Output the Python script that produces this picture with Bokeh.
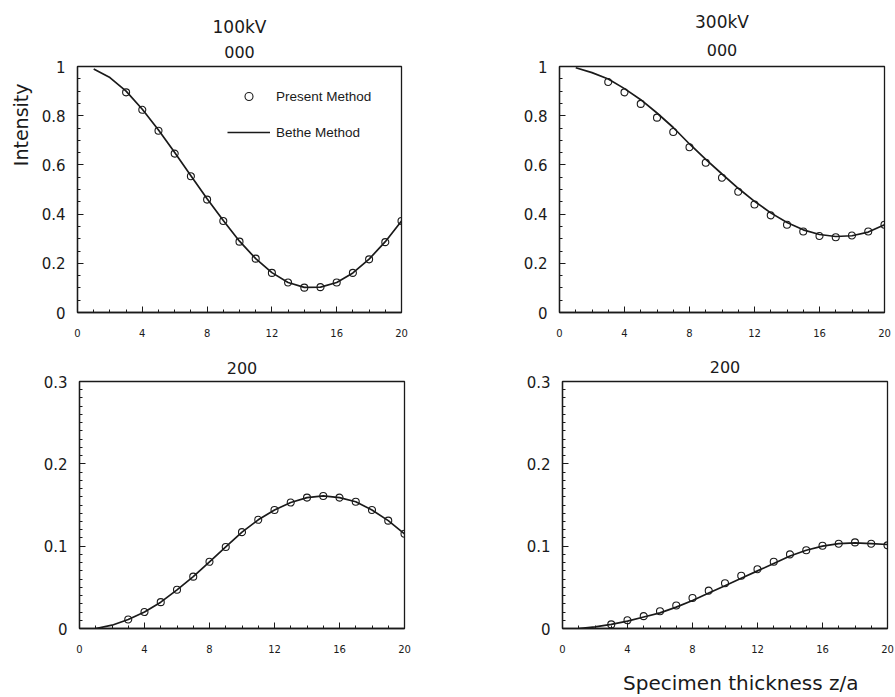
from bokeh.plotting import figure
from bokeh.layouts import column, row
from bokeh.models import (Range1d, FixedTicker, CustomJSTickFormatter, LinearAxis,
                          Title, Legend, LegendItem)
from bokeh.embed import file_html
from bokeh.resources import INLINE

# ---------------- data ----------------
thickness_line = [1, 2, 3, 4, 5, 6, 7, 8, 9, 10, 11, 12, 13, 14, 15, 16, 17, 18, 19, 20]
thickness_pts = [3, 4, 5, 6, 7, 8, 9, 10, 11, 12, 13, 14, 15, 16, 17, 18, 19, 20]

# 000 beam, 100 kV
bethe_000_100 = [0.99, 0.955, 0.9, 0.826, 0.742, 0.65, 0.556, 0.462, 0.374, 0.29,
                 0.219, 0.162, 0.122, 0.102, 0.103, 0.122, 0.161, 0.217, 0.288, 0.372]
present_000_100 = [0.895, 0.824, 0.739, 0.646, 0.554, 0.459, 0.372, 0.288, 0.219, 0.161,
                   0.122, 0.101, 0.103, 0.122, 0.161, 0.216, 0.286, 0.372]

# 000 beam, 300 kV
bethe_000_300 = [0.995, 0.975, 0.949, 0.91, 0.865, 0.811, 0.752, 0.685, 0.622, 0.563,
                 0.505, 0.452, 0.405, 0.366, 0.336, 0.317, 0.309, 0.312, 0.327, 0.357]
present_000_300 = [0.937, 0.895, 0.848, 0.792, 0.734, 0.672, 0.609, 0.548, 0.491, 0.439,
                   0.395, 0.357, 0.329, 0.311, 0.306, 0.313, 0.329, 0.357]

# 200 beam, 100 kV
bethe_200_100 = [0.0, 0.004, 0.011, 0.020, 0.032, 0.047, 0.063, 0.081, 0.099, 0.117,
                 0.132, 0.144, 0.153, 0.159, 0.161, 0.159, 0.154, 0.144, 0.131, 0.115]
present_200_100 = [0.011, 0.020, 0.032, 0.047, 0.063, 0.081, 0.099, 0.117, 0.132, 0.144,
                   0.153, 0.159, 0.161, 0.159, 0.154, 0.144, 0.131, 0.115]

# 200 beam, 300 kV
bethe_200_300 = [0.0, 0.002, 0.005, 0.009, 0.014, 0.019, 0.026, 0.034, 0.043, 0.052,
                 0.061, 0.070, 0.079, 0.088, 0.095, 0.100, 0.103, 0.104, 0.103, 0.102]
present_200_300 = [0.005, 0.010, 0.015, 0.021, 0.028, 0.037, 0.046, 0.055, 0.064, 0.072,
                   0.081, 0.090, 0.095, 0.1005, 0.103, 0.1046, 0.103, 0.101]

x_major_ticks = [0, 4, 8, 12, 16, 20]
top_y_ticks = [0, 0.2, 0.4, 0.6, 0.8, 1.0]
bottom_y_ticks = [0, 0.1, 0.2, 0.3]

INK = "#1a1a1a"
FONT = "DejaVu Sans"


def make_panel(width, height, bl, br, bt, bb, yticks, yminor_step, line_y, pts_y):
    ymax = yticks[-1]
    p = figure(width=width, height=height, output_backend="svg", toolbar_location=None,
               x_range=Range1d(0, 20), y_range=Range1d(0, ymax),
               min_border_left=bl, min_border_right=br,
               min_border_top=bt, min_border_bottom=bb,
               background_fill_color="white", border_fill_color="white")
    p.xgrid.visible = False
    p.ygrid.visible = False
    p.outline_line_color = INK
    p.outline_line_width = 1.3

    n_minor = int(round(ymax / yminor_step))
    p.xaxis.ticker = FixedTicker(ticks=x_major_ticks, minor_ticks=list(range(0, 21)))
    p.yaxis.ticker = FixedTicker(ticks=yticks,
                                 minor_ticks=[round(i * yminor_step, 4) for i in range(n_minor + 1)])
    p.yaxis.formatter = CustomJSTickFormatter(code="return String(Math.round(tick*100)/100);")
    for ax in (p.xaxis[0], p.yaxis[0]):
        ax.axis_line_color = INK
        ax.axis_line_width = 1.3
        ax.major_tick_in = 6
        ax.major_tick_out = 0
        ax.minor_tick_in = 3
        ax.minor_tick_out = 0
        ax.major_tick_line_color = INK
        ax.minor_tick_line_color = INK
        ax.major_label_text_color = INK
        ax.major_label_text_font = FONT
    p.xaxis.major_label_text_font_size = "10px"
    p.xaxis.major_label_standoff = 16
    p.yaxis.major_label_text_font_size = "15px"
    p.yaxis.major_label_standoff = 12

    ln = p.line(thickness_line, line_y, line_color=INK, line_width=1.7)
    pts = p.scatter(thickness_pts, pts_y, marker="circle", size=7,
                    line_color=INK, line_width=1.1, fill_color=None)
    return p, ln, pts


def add_title(p, text, size, standoff=0, place="above", align="center", offset=0):
    p.add_layout(Title(text=text, text_font=FONT, text_font_size=size,
                       text_font_style="normal", text_color=INK, align=align,
                       standoff=standoff, offset=offset), place)


# width, height, border left, right, top, bottom
p1, l1, c1 = make_panel(480, 341, 76, 79, 66, 29, top_y_ticks, 0.05,
                        bethe_000_100, present_000_100)
p2, l2, c2 = make_panel(414, 341, 79, 10, 66, 29, top_y_ticks, 0.05,
                        bethe_000_300, present_000_300)
p3, l3, c3 = make_panel(480, 355, 79, 76, 40, 68, bottom_y_ticks, 0.01,
                        bethe_200_100, present_200_100)
p4, l4, c4 = make_panel(414, 355, 82, 7, 40, 68, bottom_y_ticks, 0.01,
                        bethe_200_300, present_200_300)

# titles (first added sits closest to the frame)
add_title(p1, "000", "16px", standoff=18)
add_title(p1, "100kV", "17px", standoff=-4)
add_title(p2, "000", "16px", standoff=22)
add_title(p2, "300kV", "17px", standoff=-2)
add_title(p3, "200", "16px", standoff=16)
add_title(p4, "200", "16px", standoff=17)

# y axis title, placed near the top of the left side
add_title(p1, "Intensity", "19px", standoff=14, place="left", align="right", offset=17)

# invisible spacer axis below the bottom-right panel, then the x title
spacer = LinearAxis(ticker=FixedTicker(ticks=[10]), axis_line_alpha=0,
                    major_tick_in=0, major_tick_out=13, major_tick_line_alpha=0,
                    minor_tick_in=0, minor_tick_out=0, major_label_standoff=0,
                    major_label_text_font_size="1px",
                    formatter=CustomJSTickFormatter(code="return '';"))
p4.add_layout(spacer, "below")
add_title(p4, "Specimen thickness z/a", "20px", standoff=0, place="below",
          align="right", offset=29)

legend = Legend(items=[LegendItem(label="Present Method", renderers=[c1]),
                       LegendItem(label="Bethe Method", renderers=[l1])],
                location=(150, 170))
legend.border_line_color = None
legend.background_fill_alpha = 0
legend.padding = 0
legend.margin = 0
legend.spacing = 16
legend.glyph_width = 43
legend.glyph_height = 20
legend.label_height = 20
legend.label_standoff = 6
legend.label_text_font = "Liberation Sans"
legend.label_text_font_size = "13.5px"
legend.label_text_color = INK
p1.add_layout(legend)

layout = column(row(p1, p2), row(p3, p4))

with open("out.html", "w") as f:
    f.write(file_html(layout, INLINE))
